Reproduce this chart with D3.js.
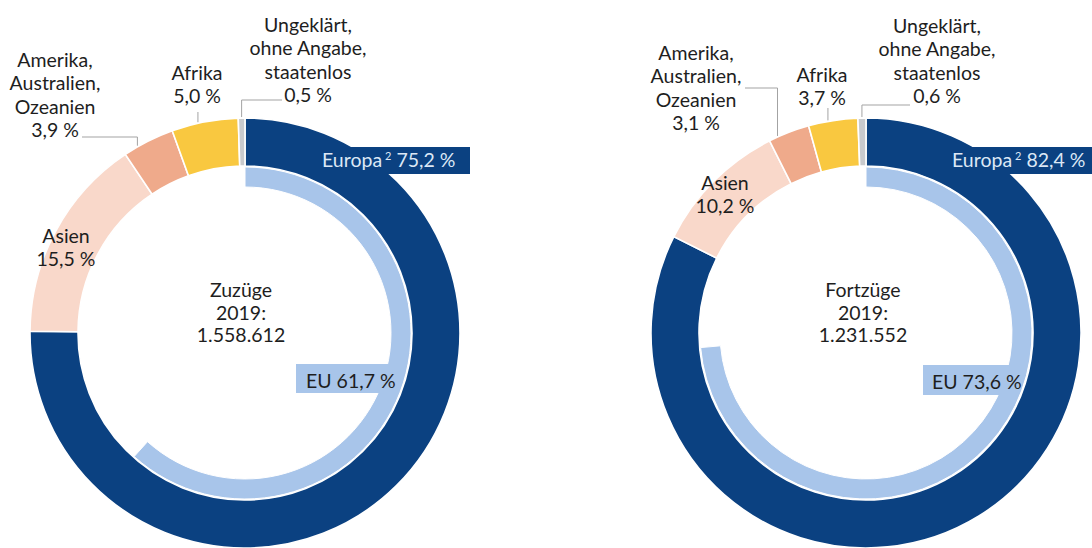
<!DOCTYPE html>
<html>
<head>
<meta charset="utf-8">
<script src="https://cdn.jsdelivr.net/npm/d3@7"></script>
<style>
  html, body { margin: 0; padding: 0; background: #ffffff; }
  svg { display: block; }
  text { font-family: "Lato", "Noto Sans", sans-serif; }
</style>
</head>
<body>
<svg id="chart" width="1092" height="548"></svg>
<script>
// ---------- data ----------
const categories = ["Europa", "Asien", "Amerika, Australien, Ozeanien", "Afrika", "Ungeklärt, ohne Angabe, staatenlos"];
const labelLines = [["Europa"], ["Asien"], ["Amerika,", "Australien,", "Ozeanien"], ["Afrika"], ["Ungeklärt,", "ohne Angabe,", "staatenlos"]];
const zuzuegeValues = [75.2, 15.5, 3.9, 5.0, 0.5];
const fortzuegeValues = [82.4, 10.2, 3.1, 3.7, 0.6];
const euValues = [61.7, 73.6];
const chartTitles = ["Zuzüge", "Fortzüge"];
const chartYears = ["2019", "2019"];
const chartTotals = [1558612, 1231552];

// ---------- style / layout ----------
const colors = ["#0b4181", "#f9d8ca", "#efaa8b", "#f9c840", "#c8cacd"];
const euColor = "#a8c5ea";
const textColor = "#1e1e1e";
const fontSize = 19.5;
const lineH = 23.3;
const rOuter = 215, rOuterIn = 167, rEuOut = 166, rEuIn = 146;

const de = d3.formatLocale({decimal: ",", thousands: ".", grouping: [3], currency: ["", " €"]});
const fmtPct = v => de.format(".1f")(v) + " %";
const fmtTotal = de.format(",d");

const layouts = [
  {
    cx: 245, cy: 333,
    europa: {x0: 314, x1: 470, y0: 147, y1: 174, tx: 322, ty: 167},
    eu: {x0: 296, x1: 392, y0: 364, y1: 393, tx: 306, ty: 388},
    center: {x: 241, y: [297, 320, 342]},
    labels: [
      null,
      {x: 66, y: 243},
      {x: 55, y: 67, frac: 0.28, elbowY: 137, endX: 82},
      {x: 197, y: 80, frac: 0.4, topY: 112},
      {x: 308, y: 32, frac: 0.5, elbowY: 100, endX: 282}
    ]
  },
  {
    cx: 866, cy: 333,
    europa: {x0: 944, x1: 1092, y0: 147, y1: 174, tx: 952, ty: 167},
    eu: {x0: 923, x1: 1012, y0: 365, y1: 395, tx: 932, ty: 389},
    center: {x: 863, y: [297, 320, 342]},
    labels: [
      null,
      {x: 725, y: 190},
      {x: 696, y: 60, frac: 0.22, elbowY: 88, endX: 745},
      {x: 822, y: 82, frac: 0.4, topY: 108},
      {x: 937, y: 33, frac: 0.5, elbowY: 105, endX: 910}
    ]
  }
];

const svg = d3.select("#chart");
const pie = d3.pie().sort(null).value(d => d);
const arcOuter = d3.arc().innerRadius(rOuterIn).outerRadius(rOuter);
const arcEu = d3.arc().innerRadius(rEuIn).outerRadius(rEuOut);

[zuzuegeValues, fortzuegeValues].forEach((values, ci) => {
  const L = layouts[ci];
  const g = svg.append("g").attr("transform", `translate(${L.cx},${L.cy})`);
  const arcs = pie(values);

  // outer ring
  g.selectAll("path.seg").data(arcs).join("path")
    .attr("class", "seg")
    .attr("d", arcOuter)
    .attr("fill", (d, i) => colors[i])
    .attr("stroke", "#ffffff")
    .attr("stroke-width", 1.6);

  // inner EU ring (share of total)
  const euScale = d3.scaleLinear().domain([0, d3.sum(values)]).range([0, 2 * Math.PI]);
  g.append("path")
    .attr("d", arcEu({startAngle: 0, endAngle: euScale(euValues[ci])}))
    .attr("fill", euColor)
    .attr("stroke", "#ffffff")
    .attr("stroke-width", 1);

  // leader lines & labels for the small categories
  arcs.forEach((a, i) => {
    const lab = L.labels[i];
    if (!lab) return;
    const lines = labelLines[i].concat([fmtPct(values[i])]);
    const t = svg.append("text")
      .attr("text-anchor", "middle")
      .attr("font-size", fontSize)
      .attr("fill", textColor);
    lines.forEach((ln, k) => {
      t.append("tspan").attr("x", lab.x).attr("y", lab.y + k * lineH).text(ln);
    });
    if (lab.frac !== undefined) {
      const ang = a.startAngle + (a.endAngle - a.startAngle) * lab.frac;
      const ax = L.cx + (rOuter + 1) * Math.sin(ang);
      const ay = L.cy - (rOuter + 1) * Math.cos(ang);
      let pts;
      if (lab.topY !== undefined) {
        pts = [[ax, ay], [ax, lab.topY]];
      } else {
        pts = [[ax, ay], [ax, lab.elbowY], [lab.endX, lab.elbowY]];
      }
      svg.append("path")
        .attr("d", d3.line()(pts))
        .attr("fill", "none")
        .attr("stroke", "#a3a3a3")
        .attr("stroke-width", 1);
    }
  });

  // Europa label box
  const E = L.europa;
  svg.append("rect")
    .attr("x", E.x0).attr("y", E.y0)
    .attr("width", E.x1 - E.x0).attr("height", E.y1 - E.y0)
    .attr("fill", colors[0]);
  const et = svg.append("text")
    .attr("x", E.tx).attr("y", E.ty)
    .attr("font-size", fontSize)
    .attr("fill", "#dce8f6");
  et.append("tspan").text(categories[0]);
  et.append("tspan").attr("dx", 3).attr("dy", -7).attr("font-size", 11).text("2");
  et.append("tspan").attr("dy", 7).text(" " + fmtPct(values[0]));

  // EU label box
  const U = L.eu;
  svg.append("rect")
    .attr("x", U.x0).attr("y", U.y0)
    .attr("width", U.x1 - U.x0).attr("height", U.y1 - U.y0)
    .attr("fill", euColor);
  svg.append("text")
    .attr("x", U.tx).attr("y", U.ty)
    .attr("font-size", fontSize)
    .attr("fill", textColor)
    .text("EU " + fmtPct(euValues[ci]));

  // center text
  const C = L.center;
  const ct = svg.append("text")
    .attr("text-anchor", "middle")
    .attr("font-size", fontSize)
    .attr("fill", textColor);
  [chartTitles[ci], chartYears[ci] + ":", fmtTotal(chartTotals[ci])].forEach((s, k) => {
    ct.append("tspan").attr("x", C.x).attr("y", C.y[k]).text(s);
  });
});
</script>
</body>
</html>
